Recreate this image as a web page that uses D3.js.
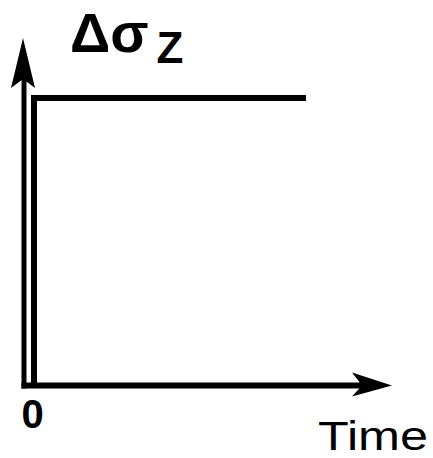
<!DOCTYPE html>
<html>
<head>
<meta charset="utf-8">
<script src="https://cdn.jsdelivr.net/npm/d3@7"></script>
<style>
  html, body { margin: 0; padding: 0; background: #fff; }
  svg { display: block; }
  text { font-family: Arial, "Liberation Sans", Roboto, sans-serif; }
</style>
</head>
<body>
<div id="chart"></div>
<script>
// step input: stress jumps at t = 0 and stays constant
var stepTime = [0, 0, 10];
var stepValue = [0, 1, 1];
var xTickLabels = ["0"];
var xAxisLabel = "Time";
var yAxisLabel = "Δσ";
var yAxisSub = "Z";

var width = 433, height = 458;
var fontFam = "Arial, 'Liberation Sans', Roboto, sans-serif";

var svg = d3.select("#chart")
            .append("svg")
              .attr("width", width)
              .attr("height", height);

// scales
var x = d3.scaleLinear()
          .domain([0, 10])
          .range([34, 306]);
var y = d3.scaleLinear()
          .domain([0, 1])
          .range([385.5, 98]);

var axisX = 24;          // where the vertical axis sits
var axisY = y(0);        // where the horizontal axis sits

// vertical axis with arrow
svg.append("line")
    .attr("x1", axisX).attr("x2", axisX)
    .attr("y1", axisY + 3).attr("y2", 70)
    .attr("stroke", "#000")
    .attr("stroke-width", 5);
svg.append("path")
    .attr("d", "M" + (axisX - 1) + ",38 L" + (axisX + 11) + ",88 L" + (axisX - 1) + ",79 L" + (axisX - 13) + ",88 Z")
    .attr("fill", "#000");

// horizontal axis with arrow
svg.append("line")
    .attr("x1", axisX - 2.5).attr("x2", 365)
    .attr("y1", axisY).attr("y2", axisY)
    .attr("stroke", "#000")
    .attr("stroke-width", 6);
svg.append("path")
    .attr("d", "M392," + axisY + " L352," + (axisY - 13) + " L362," + axisY + " L352," + (axisY + 11) + " Z")
    .attr("fill", "#000");

// tick label "0"
var xAxis = d3.axisBottom(x)
              .tickValues([0])
              .tickSize(0)
              .tickPadding(0)
              .tickFormat(function(d, i) { return xTickLabels[i]; });
var gx = svg.append("g")
    .attr("transform", "translate(-2," + axisY + ")")
    .call(xAxis);
gx.attr("font-family", null).attr("font-size", null);
gx.select(".domain").remove();
gx.selectAll("text")
    .attr("fill", "#000")
    .attr("y", 42)
    .attr("dy", null)
    .style("font-family", fontFam)
    .style("font-weight", "bold")
    .style("font-size", "40px");

// step line
var line = d3.line()
             .x(function(d, i) { return x(stepTime[i]); })
             .y(function(d) { return y(d); })
             .curve(d3.curveLinear);
svg.append("path")
    .datum(stepValue)
    .attr("d", line)
    .attr("fill", "none")
    .attr("stroke", "#000")
    .attr("stroke-width", 6)
    .attr("stroke-linejoin", "miter");

// axis titles
svg.append("text")
    .attr("x", 318)
    .attr("y", 450)
    .attr("textLength", 110)
    .attr("lengthAdjust", "spacingAndGlyphs")
    .style("font-family", fontFam)
    .style("font-size", "40px")
    .attr("fill", "#000")
    .text(xAxisLabel);

var title = svg.append("text")
    .attr("x", 70)
    .attr("y", 52)
    .style("font-family", fontFam)
    .style("font-weight", "bold")
    .style("font-size", "56px")
    .attr("fill", "#000");
title.append("tspan").text(yAxisLabel);
title.append("tspan")
    .attr("dx", 8)
    .attr("dy", 11)
    .style("font-size", "44px")
    .text(yAxisSub);
</script>
</body>
</html>
